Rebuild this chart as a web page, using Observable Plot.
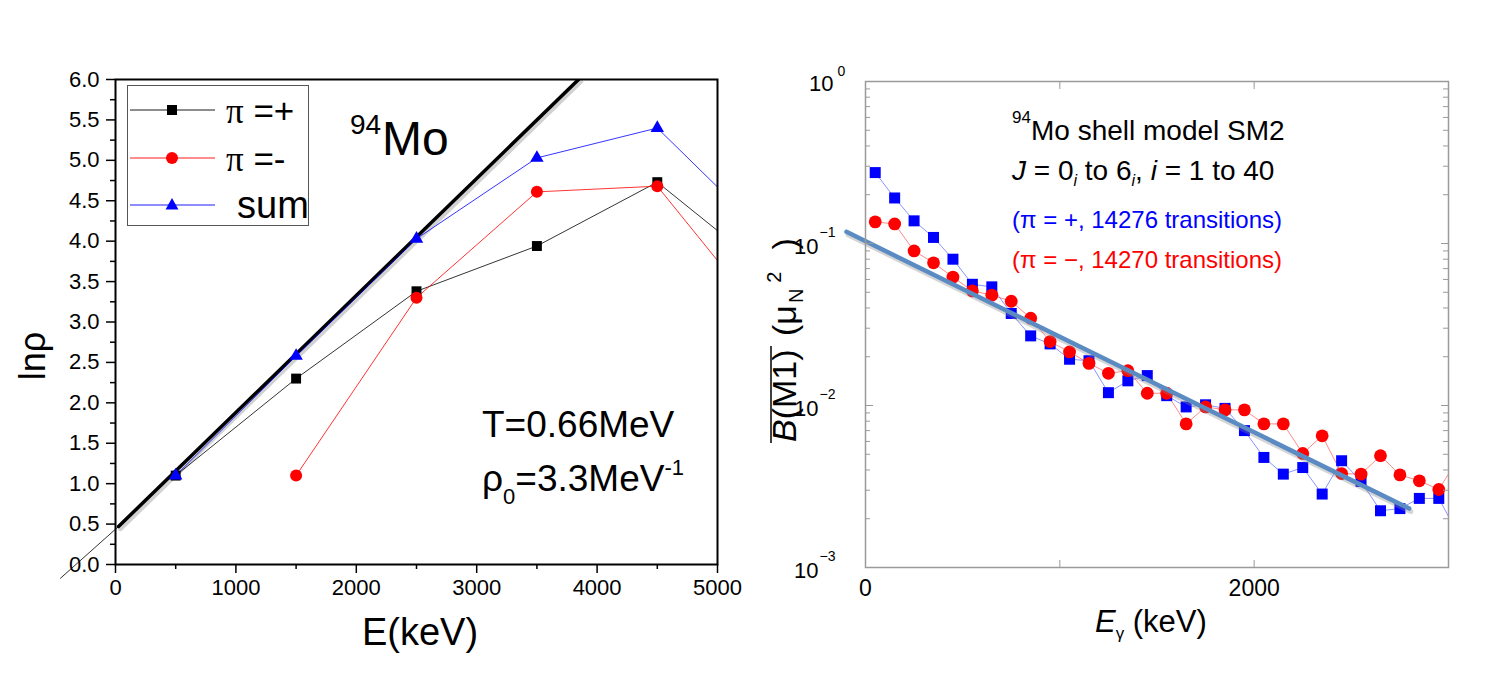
<!DOCTYPE html>
<html><head><meta charset="utf-8">
<script src="https://cdn.jsdelivr.net/npm/d3@7"></script>
<script src="https://cdn.jsdelivr.net/npm/@observablehq/plot@0.6"></script>
<style>
body{margin:0;background:#fff;}
#wrap{position:relative;width:1500px;height:694px;overflow:hidden;background:#fff;font-family:"Liberation Sans",Arial,sans-serif;}
#wrap > svg{position:absolute;top:0;}
</style></head><body><div id="wrap"></div>
<script>
// ===== Left panel: ln(rho) vs E (keV), 94Mo =====
const energyPlus = [500, 1500, 2500, 3500, 4500, 5500];
const lnRhoPlus  = [1.10, 2.30, 3.38, 3.94, 4.73, 3.53];
const energyMinus = [1500, 2500, 3500, 4500, 5500];
const lnRhoMinus  = [1.10, 3.30, 4.61, 4.68, 2.84];
const energySum = [500, 1500, 2500, 3500, 4500, 5500];
const lnRhoSum  = [1.10, 2.58, 4.03, 5.03, 5.40, 3.94];
const fitE  = [25, 3846];
const fitLn = [0.47, 6.0];
const fitExtE  = [-457, 25];
const fitExtLn = [-0.17, 0.47];
const xTicksL = [0, 1000, 2000, 3000, 4000, 5000];
const xMinorL = [500, 1500, 2500, 3500, 4500];
const yTicksL = [0, 0.5, 1, 1.5, 2, 2.5, 3, 3.5, 4, 4.5, 5, 5.5, 6];
const yMinorL = [0.25, 0.75, 1.25, 1.75, 2.25, 2.75, 3.25, 3.75, 4.25, 4.75, 5.25, 5.75];

// ===== Right panel: mean B(M1) vs E_gamma =====
const egamma = [50,150,250,350,450,550,650,750,850,950,1050,1150,1250,1350,1450,1550,1650,1750,1850,1950,2050,2150,2250,2350,2450,2550,2650,2750,2850,2950,3050];
const bm1Plus = [0.274,0.191,0.138,0.109,0.080,0.056,0.054,0.037,0.0269,0.0240,0.0193,0.0189,0.0120,0.0142,0.0153,0.0115,0.0098,0.0101,0.0096,0.0070,0.00478,0.00377,0.00414,0.00284,0.00456,0.00340,0.00224,0.00231,0.00267,0.00267,0.0016];
const bm1Minus = [0.136,0.132,0.090,0.076,0.062,0.051,0.048,0.044,0.0346,0.0248,0.0214,0.0182,0.0158,0.0164,0.0119,0.0119,0.0077,0.0098,0.0094,0.0094,0.0077,0.0077,0.00506,0.0065,0.0038,0.00377,0.0049,0.00373,0.00343,0.00303,0.0047];
const fitEg = [-98, 2798];
const fitB  = [0.118, 0.00231];
const xTicksR = [0, 1000, 2000, 3000];
const xTopTicksR = [1000, 2000];
const xLabelsR = [0, 2000];
const yExpR = [0, -1, -2, -3];
const yMinorR = [2,3,4,5,6,7,8,9].flatMap(m => [1e-3, 1e-2, 1e-1].map(p => m * p));

const FONT = "Liberation Sans, Arial, Helvetica, sans-serif";
const zip = (xs, ys) => xs.map((x, i) => ({x, y: ys[i]}));

const plusL = zip(energyPlus, lnRhoPlus);
const minusL = zip(energyMinus, lnRhoMinus);
const sumL = zip(energySum, lnRhoSum);
const fitL = zip(fitE, fitLn);
const fitExt = zip(fitExtE, fitExtLn);

const left = Plot.plot({
  width: 760, height: 694,
  marginLeft: 115, marginRight: 43, marginTop: 79, marginBottom: 130,
  style: {fontFamily: FONT, fontSize: "22px", color: "black", background: "transparent", overflow: "visible"},
  x: {domain: [0, 5000]},
  y: {domain: [0, 6]},
  marks: [
    Plot.line(fitExt, {x: "x", y: "y", stroke: "black", strokeWidth: 0.8}),
    Plot.line(fitL, {x: "x", y: "y", stroke: "#999", strokeOpacity: 0.45, strokeWidth: 5, dx: 2, dy: 2, clip: true}),
    Plot.line(fitL, {x: "x", y: "y", stroke: "black", strokeWidth: 3.5, clip: true}),
    Plot.line(plusL, {x: "x", y: "y", stroke: "black", strokeWidth: 0.8, clip: true}),
    Plot.line(minusL, {x: "x", y: "y", stroke: "red", strokeWidth: 0.8, clip: true}),
    Plot.line(sumL, {x: "x", y: "y", stroke: "blue", strokeWidth: 0.8, clip: true}),
    Plot.dot(plusL, {x: "x", y: "y", symbol: "square", r: 5.6, fill: "black", clip: true}),
    Plot.dot(minusL, {x: "x", y: "y", symbol: "circle", r: 6, fill: "red", clip: true}),
    Plot.dot(sumL, {x: "x", y: "y", symbol: "triangle", r: 5, fill: "blue", clip: true}),
    Plot.frame({stroke: "black", strokeWidth: 2}),
    Plot.axisY({ticks: yTicksL, tickSize: 9, tickPadding: 7, tickFormat: d3.format(".1f"), label: null, strokeWidth: 1.5, fontSize: 22}),
    Plot.axisY({ticks: yMinorL, tickSize: 5, tickFormat: () => "", label: null, strokeWidth: 1.5}),
    Plot.axisX({ticks: xTicksL, tickSize: 9, tickPadding: 6, tickFormat: d => String(d), label: null, strokeWidth: 1.5, fontSize: 22}),
    Plot.axisX({ticks: xMinorL, tickSize: 5, tickFormat: () => "", label: null, strokeWidth: 1.5})
  ]
});
left.style.left = "0px";

const plusR = zip(egamma, bm1Plus);
const minusR = zip(egamma, bm1Minus);
const fitR = zip(fitEg, fitB);
const yMajR = yExpR.map(e => ({v: Math.pow(10, e), e}));

const GREY = "#9a9a9a";
const right = Plot.plot({
  width: 740, height: 694,
  marginLeft: 105, marginRight: 52, marginTop: 81, marginBottom: 127,
  style: {fontFamily: FONT, fontSize: "23px", color: "black", background: "transparent", overflow: "visible"},
  x: {domain: [0, 3000]},
  y: {type: "log", domain: [1e-3, 1]},
  marks: [
    Plot.line(plusR, {x: "x", y: "y", stroke: "#3a4cff", strokeOpacity: 0.75, strokeWidth: 0.8, clip: true}),
    Plot.line(minusR, {x: "x", y: "y", stroke: "#ff3a3a", strokeOpacity: 0.75, strokeWidth: 0.8, clip: true}),
    Plot.dot(plusR, {x: "x", y: "y", symbol: "square", r: 6.2, fill: "#0000ff", clip: true}),
    Plot.dot(minusR, {x: "x", y: "y", symbol: "circle", r: 6.4, fill: "#ff0000", clip: true}),
    Plot.line(fitR, {x: "x", y: "y", stroke: "#888", strokeOpacity: 0.35, strokeWidth: 5, dx: 1.5, dy: 3}),
    Plot.line(fitR, {x: "x", y: "y", stroke: "#5b8bc3", strokeWidth: 4.5}),
    Plot.frame({stroke: GREY, strokeWidth: 1.5}),
    Plot.axisX({ticks: xTicksR, tickSize: -7, tickFormat: () => "", label: null, stroke: GREY}),
    Plot.axisX({anchor: "top", ticks: xTopTicksR, tickSize: -7, tickFormat: () => "", label: null, stroke: GREY}),
    Plot.axisX({ticks: xLabelsR, tickSize: 0, tickPadding: 12, tickFormat: d => String(d), label: null, fontSize: 23}),
    Plot.axisY({ticks: yMajR.map(d => d.v), tickSize: -8, tickFormat: () => "", label: null, stroke: GREY}),
    Plot.axisY({ticks: yMinorR, tickSize: -5, tickFormat: () => "", label: null, stroke: GREY}),
    Plot.axisY({anchor: "right", ticks: yMajR.map(d => d.v), tickSize: -8, tickFormat: () => "", label: null, stroke: GREY}),
    Plot.axisY({anchor: "right", ticks: yMinorR, tickSize: -6, tickFormat: () => "", label: null, stroke: GREY}),
    Plot.text(yMajR.filter(d => d.e === 0), {y: "v", frameAnchor: "left", text: () => "10", textAnchor: "end", dx: -32, dy: 2, fontSize: 22}),
    Plot.text(yMajR.filter(d => d.e !== 0), {y: "v", frameAnchor: "left", text: () => "10", textAnchor: "end", dx: -47, dy: 3, fontSize: 22}),
    Plot.text(yMajR.filter(d => d.e === 0), {y: "v", frameAnchor: "left", text: d => String(d.e), textAnchor: "start", dx: -28, dy: -10, fontSize: 14}),
    Plot.text(yMajR.filter(d => d.e !== 0), {y: "v", frameAnchor: "left", text: d => "\u2212" + (-d.e), textAnchor: "start", dx: -46, dy: -11, fontSize: 14})
  ]
});
right.style.left = "760px";

const wrap = document.getElementById("wrap");
wrap.appendChild(left);
wrap.appendChild(right);

// ===== Annotations, legend and axis titles =====
const legendRows = [
  {label: "=+", color: "black", symbol: "square", y: 110, pi: true},
  {label: "=-", color: "red", symbol: "circle", y: 158, pi: true},
  {label: "sum", color: "blue", symbol: "triangle", y: 205, pi: false}
];
function sym(s, c, x, y) {
  if (s === "square") return `<rect x="${x-5}" y="${y-5}" width="10" height="10" fill="${c}"/>`;
  if (s === "circle") return `<circle cx="${x}" cy="${y}" r="6" fill="${c}"/>`;
  return `<path d="M${x},${y-7}L${x+6.5},${y+4.5}L${x-6.5},${y+4.5}Z" fill="${c}"/>`;
}
let legendSvg = `<rect x="127.5" y="85.5" width="181" height="140" fill="white" stroke="#555" stroke-width="1"/>`;
for (const r of legendRows) {
  legendSvg += `<line x1="130" x2="215" y1="${r.y}" y2="${r.y}" stroke="${r.color}" stroke-width="0.9"/>` + sym(r.symbol, r.color, 172, r.y);
  if (r.pi) legendSvg += `<text x="226" y="${r.y + 13}" font-size="35"><tspan font-family="Liberation Serif, Times New Roman, serif">π</tspan> ${r.label}</text>`;
  else legendSvg += `<text x="237" y="${r.y + 13}" font-size="38">${r.label}</text>`;
}

const ov = `
<svg xmlns="http://www.w3.org/2000/svg" width="1500" height="694" style="position:absolute;left:0;top:0;pointer-events:none" font-family="${FONT}">
  ${legendSvg}
  <text transform="translate(45,356) rotate(-90)" text-anchor="middle" font-size="36">lnρ</text>
  <text x="420" y="645" text-anchor="middle" font-size="38">E(keV)</text>
  <text x="350" y="134" font-size="28">94</text>
  <text x="382" y="155" font-size="48">Mo</text>
  <text x="482" y="437" font-size="37">T=0.66MeV</text>
  <text x="482" y="491" font-size="37">ρ<tspan font-size="22" dy="13">0</tspan><tspan dy="-13">=3.3MeV</tspan><tspan font-size="22" dy="-16">-1</tspan></text>

  <text x="1012" y="123" font-size="17">94</text>
  <text x="1031" y="140" font-size="28">Mo shell model SM2</text>
  <text x="1012" y="180" font-size="28"><tspan font-style="italic">J</tspan> = 0<tspan font-size="16" font-style="italic" dy="6">i</tspan><tspan dy="-6"> to 6</tspan><tspan font-size="16" font-style="italic" dy="6">i</tspan><tspan dy="-6">, </tspan><tspan font-style="italic">i</tspan> = 1 to 40</text>
  <text x="1012" y="228" font-size="24" fill="#0000ff">(π = +, 14276 transitions)</text>
  <text x="1012" y="268" font-size="24" fill="#ff0000">(π = −, 14270 transitions)</text>
  <text transform="translate(796,442) rotate(-90)" font-size="34"><tspan font-style="italic">B</tspan>(M1)</text>
  <line x1="771" x2="771" y1="443" y2="346" stroke="black" stroke-width="1.5"/>
  <text transform="translate(796,336) rotate(-90)" font-size="34">(μ<tspan font-size="20" dy="7" dx="2">N</tspan><tspan font-size="20" dy="-22" dx="6">2</tspan><tspan dy="15" dx="22">)</tspan></text>
  <text x="1095" y="632" font-size="31"><tspan font-style="italic">E</tspan><tspan font-size="17" dy="7">γ</tspan><tspan dy="-7"> (keV)</tspan></text>
</svg>`;
wrap.insertAdjacentHTML("beforeend", ov);
</script>
</body></html>
